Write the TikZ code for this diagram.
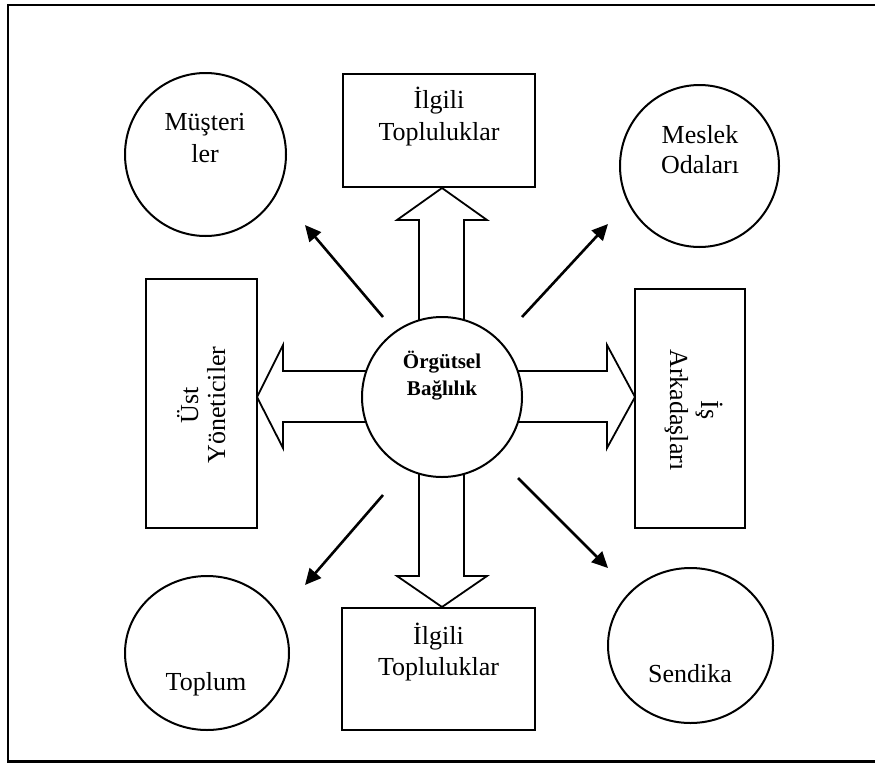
\documentclass[tikz,border=0pt]{standalone}
\usepackage{fontspec}
\setmainfont{Liberation Serif}
\usetikzlibrary{arrows.meta,shapes.geometric}
\begin{document}
\begin{tikzpicture}[x=1pt,y=-1pt,
  outline/.style={draw, line width=2pt},
  oval/.style={outline, ellipse, inner sep=0pt},
  boxs/.style={outline, rectangle, inner sep=0pt},
  blockarrow/.style={draw, line width=1.8pt, fill=white, line join=miter},
  conn/.style={line width=2.6pt, -{Triangle[length=16pt,width=15pt]}},
  lbl/.style={font=\fontsize{26}{30}\selectfont, inner sep=0pt, anchor=base},
  ctr/.style={font=\bfseries\fontsize{21}{25}\selectfont, inner sep=0pt, anchor=base},
]
\useasboundingbox (0,0) rectangle (875,763);
\fill[white] (0,0) rectangle (875,763);
\draw[line width=2.5pt] (880,5) -- (8,5) -- (8,761.5) -- (880,761.5);

% outer shapes
\node[boxs, minimum width=192pt, minimum height=113pt] (topbox) at (439,130.5) {};
\node[boxs, minimum width=193pt, minimum height=122pt] (botbox) at (438.5,669) {};
\node[boxs, minimum width=111pt, minimum height=249pt] (leftbox) at (201.5,403.5) {};
\node[boxs, minimum width=110pt, minimum height=239pt] (rightbox) at (690,408.5) {};

\node[oval, minimum width=161pt, minimum height=163pt] (mus) at (205.5,154.5) {};
\node[oval, minimum width=159pt, minimum height=162pt] (mes) at (699.5,166) {};
\node[oval, minimum width=164pt, minimum height=154pt] (top) at (207,653) {};
\node[oval, minimum width=165pt, minimum height=155pt] (sen) at (690.5,645.5) {};

% block arrows
\draw[blockarrow] (419,330) -- (419,220) -- (397,220) -- (442,188) -- (487,220) -- (464,220) -- (464,330) -- cycle;
\draw[blockarrow] (419,460) -- (419,576) -- (397,576) -- (442,607) -- (487,576) -- (464,576) -- (464,460) -- cycle;
\draw[blockarrow] (380,371) -- (283,371) -- (283,345) -- (257,397) -- (283,448) -- (283,422) -- (380,422) -- cycle;
\draw[blockarrow] (505,371) -- (607,371) -- (607,345) -- (635,397) -- (607,448) -- (607,422) -- (505,422) -- cycle;

% centre
\node[outline, circle, fill=white, inner sep=0pt, minimum size=160pt] (org) at (442,397) {};

% diagonal connectors
\coordinate (nwA) at (383,317);
\coordinate (nwB) at (305,225);
\coordinate (neA) at (522,317);
\coordinate (neB) at (608,224);
\coordinate (swA) at (383,495);
\coordinate (swB) at (305,585);
\coordinate (seA) at (518,478);
\coordinate (seB) at (608,568);
\draw[conn] (nwA) -- (nwB);
\draw[conn] (neA) -- (neB);
\draw[conn] (swA) -- (swB);
\draw[conn] (seA) -- (seB);

% texts
\node[lbl] (t1) at (439,108) {İlgili};
\node[lbl] (t2) at (439,140) {Topluluklar};
\node[lbl] (b1) at (438.5,644) {İlgili};
\node[lbl] (b2) at (438.5,675) {Topluluklar};
\node[lbl] (m1) at (205,130) {Müşteri};
\node[lbl] (m2) at (205,162) {ler};
\node[lbl] (o1) at (700,143) {Meslek};
\node[lbl] (o2) at (700,173) {Odaları};
\node[lbl] (tp) at (206,690) {Toplum};
\node[lbl] (sd) at (690,682) {Sendika};
\node[ctr] (c1) at (442,368) {Örgütsel};
\node[ctr] (c2) at (442,395) {Bağlılık};
\node[lbl, rotate=90] (u1) at (198,405) {Üst};
\node[lbl, rotate=90] (u2) at (225,405) {Yöneticiler};
\node[lbl, rotate=-90] (i1) at (701,410) {İş};
\node[lbl, rotate=-90] (i2) at (670,410) {Arkadaşları};
\end{tikzpicture}
\end{document}
